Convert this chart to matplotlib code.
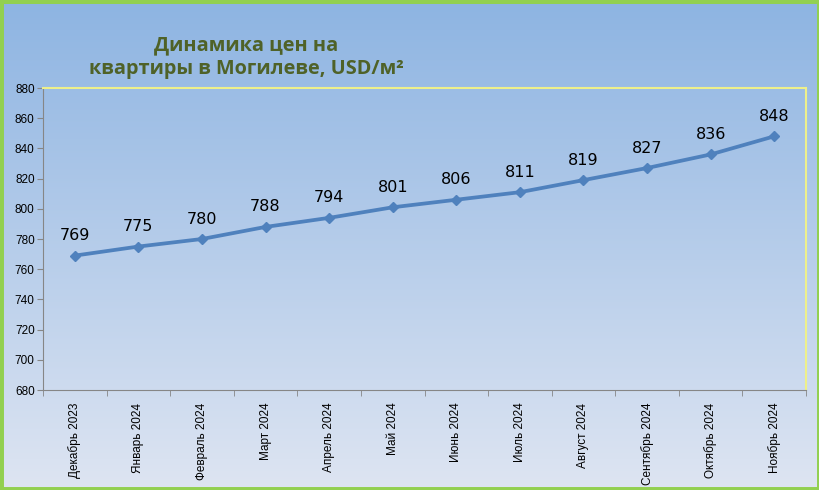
import matplotlib
matplotlib.use('Agg')
import matplotlib.pyplot as plt
import numpy as np
from matplotlib.patches import Rectangle

months = ['Декабрь 2023', 'Январь 2024', 'Февраль 2024', 'Март 2024', 'Апрель 2024',
          'Май 2024', 'Июнь 2024', 'Июль 2024', 'Август 2024', 'Сентябрь 2024',
          'Октябрь 2024', 'Ноябрь 2024']
prices = [769, 775, 780, 788, 794, 801, 806, 811, 819, 827, 836, 848]
yticks = list(range(680, 881, 20))

fig = plt.figure(figsize=(8.2, 4.9), dpi=100)

# background gradient over the whole figure
bg = fig.add_axes([0, 0, 1, 1], zorder=-10)
top = np.array([141, 180, 226]) / 255
bot = np.array([222, 229, 242]) / 255
t = np.linspace(0, 1, 256)[:, None]
grad = top * (1 - t) + bot * t
bg.imshow(grad[:, None, :], aspect='auto', extent=[0, 1, 0, 1])
bg.axis('off')

ax = fig.add_axes([43 / 820, 1 - 390 / 490, (806 - 43) / 820, (390 - 88) / 490])
ax.patch.set_alpha(0)

x = np.arange(len(months))
ax.plot(x, prices, color='#4F81BD', lw=2.7, marker='D', ms=5, zorder=3)
for xi, p in zip(x, prices):
    ax.annotate(str(p), (xi, p), xytext=(0, 9), textcoords='offset points',
                ha='center', va='bottom', fontsize=11.5, color='black')

ax.set_xlim(-0.5, len(months) - 0.5)
ax.set_ylim(680, 880)
ax.set_yticks(yticks)
ax.set_yticklabels(yticks, family='Liberation Sans')
ax.tick_params(axis='y', labelsize=8.5, length=4, color='#868686', pad=2)
ax.set_xticks(x)
ax.set_xticklabels(months, rotation=90, fontsize=8.5, family='Liberation Sans')
ax.tick_params(axis='x', length=0, pad=9)
ax.set_xticks(np.arange(len(months) + 1) - 0.5, minor=True)
ax.tick_params(axis='x', which='minor', length=4, color='#868686')

for s in ['left', 'bottom']:
    ax.spines[s].set_color('#868686')
for s in ['top', 'right']:
    ax.spines[s].set_color('#EEF08A')
    ax.spines[s].set_linewidth(1.5)

fig.text(246 / 820, 1 - 57 / 490, 'Динамика цен на\nквартиры в Могилеве, USD/м²',
         ha='center', va='center', fontsize=14.3, fontweight='bold', color='#4F6228',
         family='Open Sans', linespacing=1.25)

fig.patches.append(Rectangle((0, 0), 1, 1, transform=fig.transFigure, fill=False,
                             edgecolor='#92D050', lw=5))

fig.savefig('out.png', dpi=100)
